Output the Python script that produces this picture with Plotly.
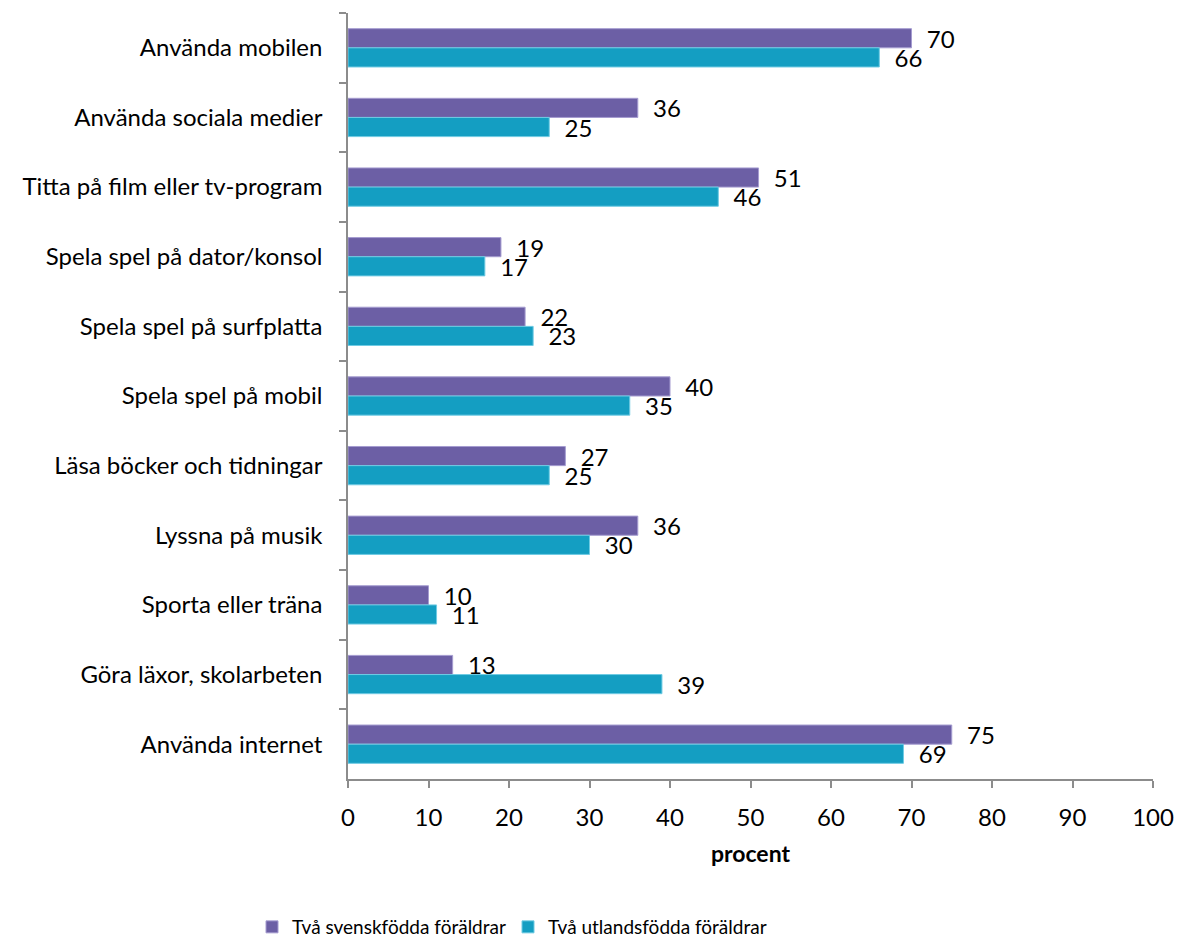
import plotly.graph_objects as go

categories = [
    "Använda mobilen",
    "Använda sociala medier",
    "Titta på film eller tv-program",
    "Spela spel på dator/konsol",
    "Spela spel på surfplatta",
    "Spela spel på mobil",
    "Läsa böcker och tidningar",
    "Lyssna på musik",
    "Sporta eller träna",
    "Göra läxor, skolarbeten",
    "Använda internet",
]
svenskfodda = [70, 36, 51, 19, 22, 40, 27, 36, 10, 13, 75]
utlandsfodda = [66, 25, 46, 17, 23, 35, 25, 30, 11, 39, 69]
x_ticks = [0, 10, 20, 30, 40, 50, 60, 70, 80, 90, 100]

FONT = "Lato, Carlito, 'Open Sans', sans-serif"
AXIS_GREY = "#8c8c8c"
SIZE = 24

fig = go.Figure()
fig.add_trace(go.Bar(
    y=categories, x=svenskfodda, orientation="h",
    name="Två svenskfödda föräldrar", legend="legend",
    marker=dict(color="#6c5fa5", line=dict(color="#a59cd0", width=1)),
    text=svenskfodda, texttemplate="  %{x}", textposition="outside",
    constraintext="none", cliponaxis=False,
    textfont=dict(size=SIZE, color="#000000", family=FONT),
))
fig.add_trace(go.Bar(
    y=categories, x=utlandsfodda, orientation="h",
    name="Två utlandsfödda föräldrar", legend="legend2",
    marker=dict(color="#149ec2", line=dict(color="#6fcbe3", width=1)),
    text=utlandsfodda, texttemplate="  %{x}", textposition="outside",
    constraintext="none", cliponaxis=False,
    textfont=dict(size=SIZE, color="#000000", family=FONT),
))

legend_common = dict(
    orientation="h", xanchor="left",
    xref="container", yref="container", y=1 - 927 / 940, yanchor="middle",
    font=dict(size=19, family=FONT), itemwidth=30,
)

fig.update_layout(
    width=1181, height=940,
    paper_bgcolor="white", plot_bgcolor="white",
    margin=dict(l=348, r=28, t=13, b=161, autoexpand=False),
    barmode="group", bargap=0.45, bargroupgap=0,
    font=dict(family=FONT, size=SIZE, color="#000000"),
    legend=dict(x=252 / 1181, **legend_common),
    legend2=dict(x=508 / 1181, **legend_common),
    showlegend=True,
)
fig.update_xaxes(
    range=[0, 100], tickvals=x_ticks, ticktext=[str(v) for v in x_ticks],
    showgrid=False, zeroline=False, automargin=False,
    showline=True, linecolor=AXIS_GREY, linewidth=1.5,
    ticks="outside", ticklen=7, tickcolor=AXIS_GREY, tickwidth=1.5,
    tickfont=dict(size=SIZE, family=FONT), ticklabelstandoff=9,
    title=dict(text="<b>procent</b>", font=dict(size=23, family=FONT), standoff=16),
)
fig.update_yaxes(
    autorange="reversed", type="category",
    showgrid=False, zeroline=False, automargin=False,
    showline=True, linecolor=AXIS_GREY, linewidth=1.5,
    ticks="outside", tickson="boundaries", ticklen=7,
    tickcolor=AXIS_GREY, tickwidth=1.5,
    tickfont=dict(size=SIZE, family=FONT), ticklabelstandoff=19,
)

fig.write_html("out.html")
